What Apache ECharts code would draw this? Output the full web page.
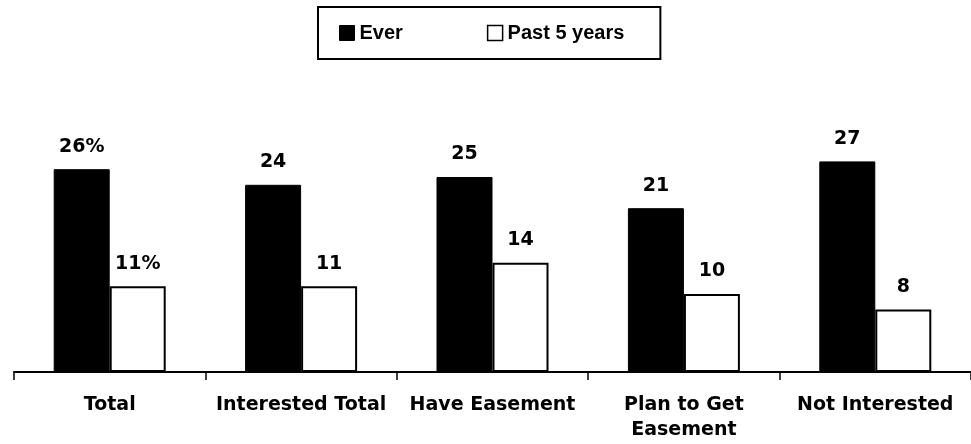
<!DOCTYPE html>
<html>
<head>
<meta charset="utf-8">
<script src="https://cdn.jsdelivr.net/npm/echarts@6/dist/echarts.min.js"></script>
<style>
html,body{margin:0;padding:0;background:#fff;}
#chart{width:971px;height:444px;}
</style>
</head>
<body>
<div id="chart"></div>
<script>
var categories = ["Total", "Interested Total", "Have Easement", "Plan to Get\nEasement", "Not Interested"];
var everValues = [26, 24, 25, 21, 27];
var past5Values = [11, 11, 14, 10, 8];
var seriesNames = ["Ever", "Past 5 years"];
var pctSuffix = ["%", "", "", "", ""];

var chart = echarts.init(document.getElementById('chart'));
var labelFmt = function (p) { return p.value + pctSuffix[p.dataIndex]; };
var valueLabel = {
  show: true, position: 'top', distance: 13,
  fontFamily: 'DejaVu Sans', fontWeight: 'bold', fontSize: 19, color: '#000',
  formatter: labelFmt
};
chart.setOption({
  animation: false,
  backgroundColor: '#fff',
  legend: {
    left: 318, top: 7,
    orient: 'horizontal',
    padding: [16, 36, 16, 21],
    borderColor: '#000', borderWidth: 2,
    itemWidth: 15, itemHeight: 15, itemGap: 84, itemTextGap: 4,
    icon: 'rect',
    textStyle: { fontFamily: 'Liberation Sans, Arial', fontWeight: 'bold', fontSize: 20, color: '#000' },
    data: [
      { name: seriesNames[0], itemStyle: { color: '#000', borderColor: '#000', borderWidth: 1 } },
      { name: seriesNames[1], itemStyle: { color: '#fff', borderColor: '#000', borderWidth: 1.5 } }
    ]
  },
  grid: { left: 14, right: -1, top: 138, bottom: 72 },
  xAxis: {
    type: 'category',
    data: categories,
    axisLine: { lineStyle: { color: '#000', width: 2 } },
    axisTick: { show: true, length: 8, lineStyle: { color: '#000', width: 1.5 } },
    axisLabel: {
      interval: 0, margin: 21, lineHeight: 25,
      fontFamily: 'DejaVu Sans', fontWeight: 'bold', fontSize: 19, color: '#000'
    }
  },
  yAxis: { type: 'value', min: 0, max: 30, show: false, splitLine: { show: false } },
  series: [
    {
      name: seriesNames[0], type: 'bar', data: everValues,
      barWidth: 56, barGap: '0%',
      itemStyle: { color: '#000', borderColor: '#000', borderWidth: 1 },
      label: valueLabel
    },
    {
      name: seriesNames[1], type: 'bar', data: past5Values,
      barWidth: 56, barGap: '0%',
      itemStyle: { color: '#fff', borderColor: '#000', borderWidth: 2 },
      label: valueLabel
    }
  ]
});
</script>
</body>
</html>
